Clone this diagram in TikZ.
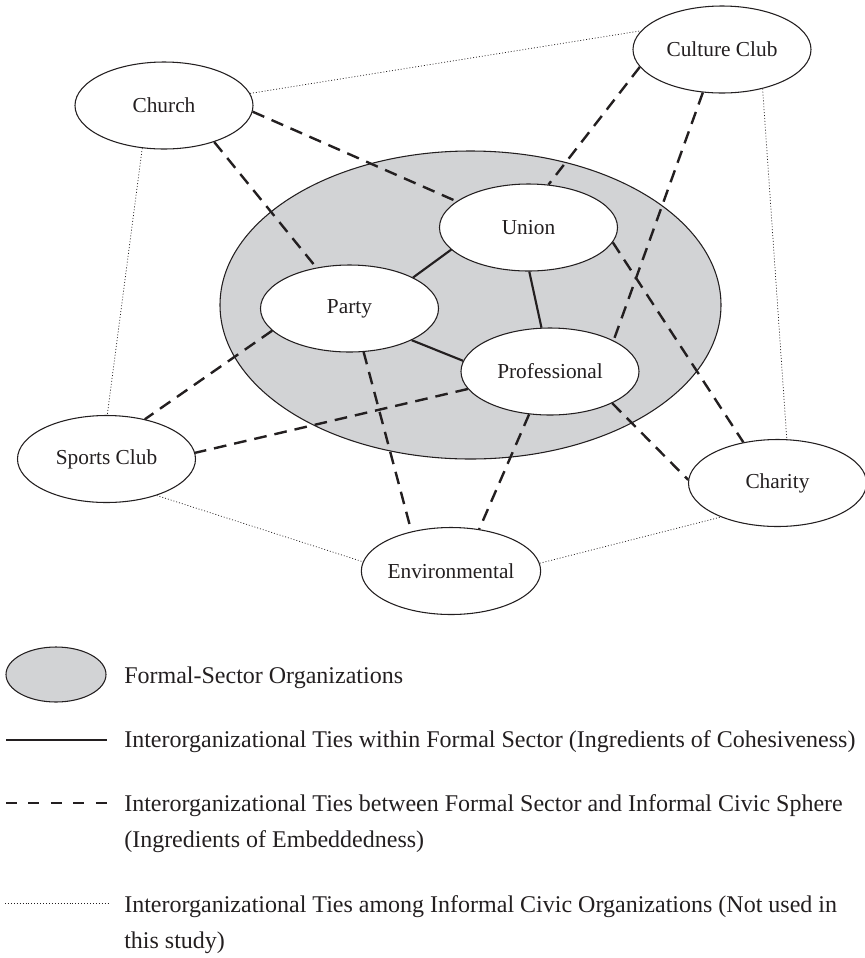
\documentclass[tikz,border=0pt]{standalone}
\usepackage{fontspec}
\setmainfont{Liberation Serif}
\usetikzlibrary{shapes.geometric}
\definecolor{formalgray}{RGB}{210,211,213}
\definecolor{ink}{RGB}{35,31,32}
\begin{document}
\begin{tikzpicture}[x=0.75pt,y=-0.75pt,
  org/.style={ellipse, draw=ink, line width=0.8pt, fill=white, minimum width=133.5pt, minimum height=65.25pt, inner sep=0pt, font=\fontsize{16}{19}\selectfont, text=ink},
  sector/.style={ellipse, draw=ink, line width=0.8pt, fill=formalgray, inner sep=0pt},
  cohesive/.style={draw=ink, line width=1.6pt},
  embedded/.style={draw=ink, line width=1.8pt, dash pattern=on 9.5pt off 6pt},
  civic/.style={draw=ink, line width=0.55pt, dash pattern=on 0.7pt off 1.5pt},
  legendtext/.style={anchor=base west, font=\fontsize{18}{21}\selectfont, text=ink, inner sep=0pt}
]
\useasboundingbox (0,0) rectangle (865,958);

% formal sector
\node[sector, minimum width=375.75pt, minimum height=231pt] (formal) at (470.5,305) {};

% organizations
\node[org] (church)  at (164,105.5) {Church};
\node[org] (culture) at (722,49.5) {Culture Club};
\node[org] (union)   at (528.5,227.5) {Union};
\node[org] (party)   at (349.5,308.5) {Party};
\node[org] (prof)    at (550,371.5) {Professional};
\node[org] (sports)  at (106.5,459) {Sports Club};
\node[org] (charity) at (777.5,483) {Charity};
\node[org] (env)     at (451,571) {Environmental};

% ties within formal sector
\draw[cohesive] (union.196.9) -- (party.26.7);
\draw[cohesive] (union.-89.4) -- (prof.101.7);
\draw[cohesive] (party.-27.5) -- (prof.173.7);

% ties between formal sector and civic sphere
\draw[embedded] (church.-4.8) -- (union.160.9);
\draw[embedded] (church.-36.7) -- (party.129.7);
\draw[embedded] (culture.-168.2) -- (union.65.8);
\draw[embedded] (culture.-114.2) -- (prof.26.9);
\draw[embedded] (union.-10.5) -- (charity.130.1);
\draw[embedded] (prof.-27.7) -- (charity.178);
\draw[embedded] (prof.-116.8) -- (env.56);
\draw[embedded] (party.-72.8) -- (env.135);
\draw[embedded] (party.-164.7) -- (sports.46.8);
\draw[embedded] (prof.-168.8) -- (sports.4.5);

% ties among informal civic organizations
\draw[civic] (church.8.8) -- (culture.167.2);
\draw[civic] (church.-117.9) -- (sports.89.3);
\draw[civic] (culture.-44) -- (charity.78.8);
\draw[civic] (sports.-36.4) -- (env.174.9);
\draw[civic] (env.5.7) -- (charity.-149.8);

% legend
\node[sector, minimum width=75pt, minimum height=41.25pt] (lgsector) at (56,674.5) {};
\node[legendtext] (lt1) at (124,683) {Formal-Sector Organizations};

\coordinate (ls1) at (6,740);
\coordinate (ls2) at (107,740);
\draw[cohesive] (ls1) -- (ls2);
\node[legendtext] (lt2) at (124,747) {Interorganizational Ties within Formal Sector (Ingredients of Cohesiveness)};

\coordinate (ld1) at (6,803);
\coordinate (ld2) at (107,803);
\draw[embedded, dash pattern=on 8.25pt off 8.6pt] (ld1) -- (ld2);
\node[legendtext] (lt3) at (124,811) {Interorganizational Ties between Formal Sector and Informal Civic Sphere};
\node[legendtext] (lt3b) at (124,847) {(Ingredients of Embeddedness)};

\coordinate (lo1) at (5,903);
\coordinate (lo2) at (108,903);
\draw[civic] (lo1) -- (lo2);
\node[legendtext] (lt4) at (124,912) {Interorganizational Ties among Informal Civic Organizations (Not used in};
\node[legendtext] (lt4b) at (124,948) {this study)};
\end{tikzpicture}
\end{document}
